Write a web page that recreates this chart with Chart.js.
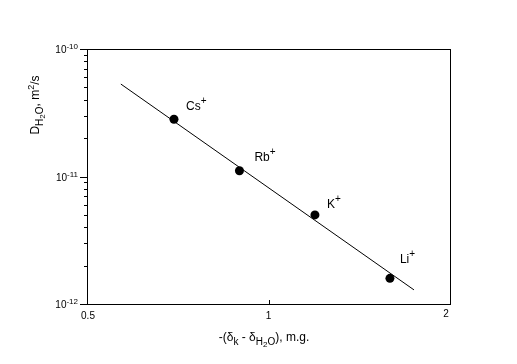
<!DOCTYPE html>
<html>
<head>
<meta charset="utf-8">
<script src="https://cdn.jsdelivr.net/npm/chart.js@4"></script>
<style>
  html, body { margin: 0; padding: 0; background: #fff; }
  #wrap { width: 517px; height: 364px; }
</style>
</head>
<body>
<div id="wrap"><canvas id="chart"></canvas></div>
<script>
// measured points
const ions = ['Cs', 'Rb', 'K', 'Li'];
const shift = [0.697, 0.895, 1.194, 1.59];
const diff = [2.81e-11, 1.11e-11, 5.0e-12, 1.59e-12];
// fitted line end points
const fitX = [0.569, 1.743];
const fitY = [5.31e-11, 1.29e-12];
// axes
const xTicks = [0.5, 1, 2];
const yMajor = [1e-12, 1e-11, 1e-10];
const yExp = [-12, -11, -10];

const FONT = 'Arial, "Liberation Sans", sans-serif';

// label offsets from each point, pixels
const labelOff = [[12, -14], [15, -15], [12, -12], [10, -20]];

function drawRich(ctx, parts, x, y, align) {
    let w = 0;
    parts.forEach(p => {
        ctx.font = p.size + 'px ' + FONT;
        w += ctx.measureText(p.t).width;
    });
    let cx = align === 'right' ? x - w : align === 'center' ? x - w / 2 : x;
    parts.forEach(p => {
        ctx.font = p.size + 'px ' + FONT;
        ctx.fillText(p.t, cx, y + (p.dy || 0));
        cx += ctx.measureText(p.t).width;
    });
}

const decor = {
    id: 'decor',
    afterDraw(chart) {
        const ctx = chart.ctx;
        const xs = chart.scales.x, ys = chart.scales.y;
        const a = chart.chartArea;
        ctx.save();
        ctx.strokeStyle = '#000';
        ctx.fillStyle = '#000';
        ctx.lineWidth = 1;
        // frame
        ctx.strokeRect(Math.round(a.left) + 0.5, Math.round(a.top) + 0.5,
            Math.round(a.right - a.left), Math.round(a.bottom - a.top));

        // y ticks (outside, left)
        ctx.beginPath();
        for (let e = -12; e < -10; e++) {
            for (let m = 2; m <= 9; m++) {
                const py = Math.round(ys.getPixelForValue(m * Math.pow(10, e))) + 0.5;
                ctx.moveTo(a.left - 3, py);
                ctx.lineTo(a.left, py);
            }
        }
        yMajor.forEach(v => {
            const py = Math.round(ys.getPixelForValue(v)) + 0.5;
            ctx.moveTo(a.left - 7, py);
            ctx.lineTo(a.left, py);
        });
        // x ticks (inside, up)
        xTicks.forEach(v => {
            const px = Math.round(xs.getPixelForValue(v)) + 0.5;
            ctx.moveTo(px, a.bottom);
            ctx.lineTo(px, a.bottom - 4);
        });
        ctx.stroke();

        // y tick labels
        ctx.textBaseline = 'alphabetic';
        yMajor.forEach((v, i) => {
            const py = ys.getPixelForValue(v);
            drawRich(ctx, [
                { t: '10', size: 10, dy: 0 },
                { t: '-' + Math.abs(yExp[i]), size: 8, dy: -4 }
            ], a.left - 9, py + 4, 'right');
        });
        // x tick labels
        ctx.font = '10px ' + FONT;
        ctx.textAlign = 'center';
        xTicks.forEach(v => {
            const px = xs.getPixelForValue(v);
            ctx.fillText(String(v), px + (v === 2 ? -4 : 0) + (v === 0.5 ? 1 : 0), a.bottom + (v === 2 ? 13 : 15));
        });
        ctx.textAlign = 'left';

        // ion labels
        ions.forEach((name, i) => {
            const px = xs.getPixelForValue(shift[i]);
            const py = ys.getPixelForValue(diff[i]);
            drawRich(ctx, [
                { t: name, size: 12, dy: 0 },
                { t: '+', size: 10, dy: -6 }
            ], px + labelOff[i][0], py + labelOff[i][1] + 5, 'left');
        });

        // x title
        drawRich(ctx, [
            { t: '-(\u03b4', size: 12, dy: 0 },
            { t: 'k', size: 10, dy: 4 },
            { t: ' - \u03b4', size: 12, dy: 0 },
            { t: 'H', size: 10, dy: 4 },
            { t: '2', size: 8, dy: 6 },
            { t: 'O', size: 10, dy: 4 },
            { t: '), m.g.', size: 12, dy: 0 }
        ], 264, 341, 'center');

        // y title
        ctx.translate(39, 105);
        ctx.rotate(-Math.PI / 2);
        drawRich(ctx, [
            { t: 'D', size: 12, dy: 0 },
            { t: 'H', size: 10, dy: 4 },
            { t: '2', size: 8, dy: 6 },
            { t: 'O', size: 10, dy: 4 },
            { t: ', m', size: 12, dy: 0 },
            { t: '2', size: 9, dy: -5 },
            { t: '/s', size: 12, dy: 0 }
        ], 0, 0, 'center');
        ctx.restore();
    }
};

new Chart(document.getElementById('chart'), {
    type: 'scatter',
    data: {
        datasets: [{
            data: fitX.map((x, i) => ({ x: x, y: fitY[i] })),
            showLine: true,
            borderColor: '#000',
            borderWidth: 1,
            pointRadius: 0
        }, {
            data: shift.map((x, i) => ({ x: x, y: diff[i] })),
            pointRadius: 4.5,
            pointBackgroundColor: '#000',
            pointBorderColor: '#000',
            pointBorderWidth: 0
        }]
    },
    options: {
        responsive: true,
        maintainAspectRatio: false,
        animation: false,
        layout: { padding: { left: 87, top: 49, right: 67, bottom: 60 } },
        plugins: { legend: { display: false }, tooltip: { enabled: false } },
        scales: {
            x: { type: 'logarithmic', min: 0.5, max: 2, display: false },
            y: { type: 'logarithmic', min: 1e-12, max: 1e-10, display: false }
        }
    },
    plugins: [decor]
});
</script>
</body>
</html>
